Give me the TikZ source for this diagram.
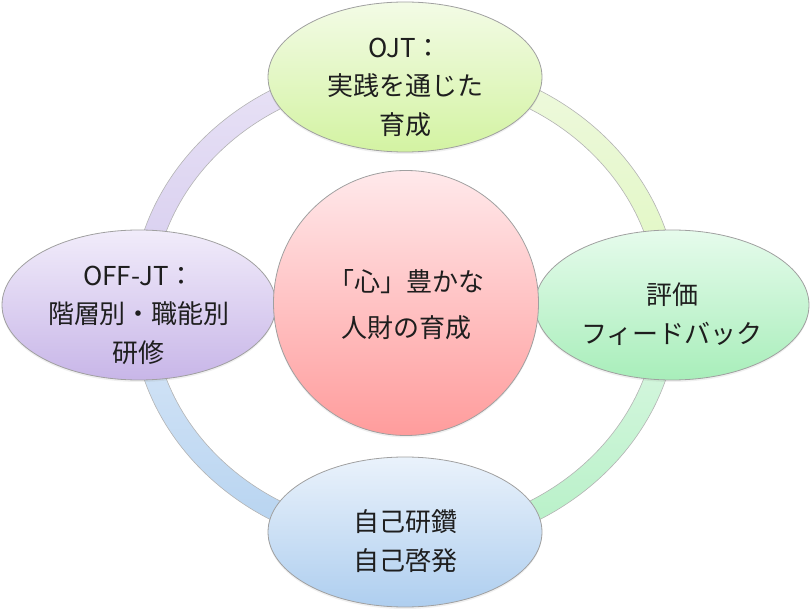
\documentclass[tikz,border=0pt]{standalone}
\usepackage{fontspec}
\setmainfont{Noto Sans CJK JP}
\usetikzlibrary{shapes.geometric,shadows}

\definecolor{txt}{HTML}{1E1E1E}
\definecolor{edge}{HTML}{A0A0A0}
\definecolor{ojtA}{HTML}{F3FBE6}
\definecolor{ojtB}{HTML}{D3F3A2}
\definecolor{evalA}{HTML}{E6FBEC}
\definecolor{evalB}{HTML}{A8EEBA}
\definecolor{selfA}{HTML}{EAF2FB}
\definecolor{selfB}{HTML}{AECEEF}
\definecolor{offA}{HTML}{F1ECFA}
\definecolor{offB}{HTML}{C8B6E8}
\definecolor{coreA}{HTML}{FFE9EB}
\definecolor{coreB}{HTML}{FF9C9C}

\tikzset{
  bubble/.style={ellipse, draw=edge, line width=0.8pt,
    minimum width=274pt, minimum height=150pt, inner sep=0pt,
    drop shadow={opacity=0.12, shadow xshift=0pt, shadow yshift=-2pt}},
  core/.style={circle, draw=edge, line width=0.8pt,
    minimum size=265pt, inner sep=0pt,
    drop shadow={opacity=0.12, shadow xshift=0pt, shadow yshift=-2pt}},
  words/.style={align=center, text=txt, inner sep=0pt,
    font=\fontsize{26}{38.5}\selectfont},
  band/.style={draw=edge!80, line width=0.6pt}
}

\begin{document}
\begin{tikzpicture}[x=1pt, y=-1pt]
\useasboundingbox (0,0) rectangle (812,612);
\coordinate (c) at (405,305);

% ring behind the bubbles
\foreach \a/\ta/\tb in {180/E9E3F6/D5CBEE, 270/EFF9DF/DFF7BF, 0/DEF8E5/B4F0C5, 90/D9E7F7/B4D2F0} {
  \definecolor{bandA}{HTML}{\ta}
  \definecolor{bandB}{HTML}{\tb}
  \shade[band, top color=bandA, bottom color=bandB]
    ([shift={(c)}]\a:273.5 and 246.5)
    arc[start angle=\a, delta angle=90, x radius=273.5, y radius=246.5]
    -- ([shift={(c)}]\a+90:252.5 and 225.5)
    arc[start angle=\a+90, delta angle=-90, x radius=252.5, y radius=225.5]
    -- cycle;
}

\node[bubble, top color=ojtA, bottom color=ojtB]   (ojt)  at (405,77)  {};
\node[bubble, top color=evalA, bottom color=evalB] (eval) at (672,305) {};
\node[bubble, top color=selfA, bottom color=selfB] (self) at (405,532) {};
\node[bubble, top color=offA, bottom color=offB]   (off)  at (139,305) {};
\node[core, top color=coreA, bottom color=coreB]   (heart) at (406,303) {};

% labels, set a little below the middle
\node[words] (ojt-t)  at ([yshift=-10pt]ojt.center)  {OJT：\\実践を通じた\\育成};
\node[words] (eval-t) at ([yshift=-9pt]eval.center)  {評価\\フィードバック};
\node[words] (self-t) at ([yshift=-9pt]self.center)  {自己研鑽\\自己啓発};
\node[words] (off-t)  at ([yshift=-10pt]off.center)  {OFF-JT：\\階層別・職能別\\研修};
\node[words, font=\fontsize{26}{46}\selectfont] (heart-t) at ([yshift=-2pt]heart.center) {「心」豊かな\\人財の育成};

\end{tikzpicture}
\end{document}
